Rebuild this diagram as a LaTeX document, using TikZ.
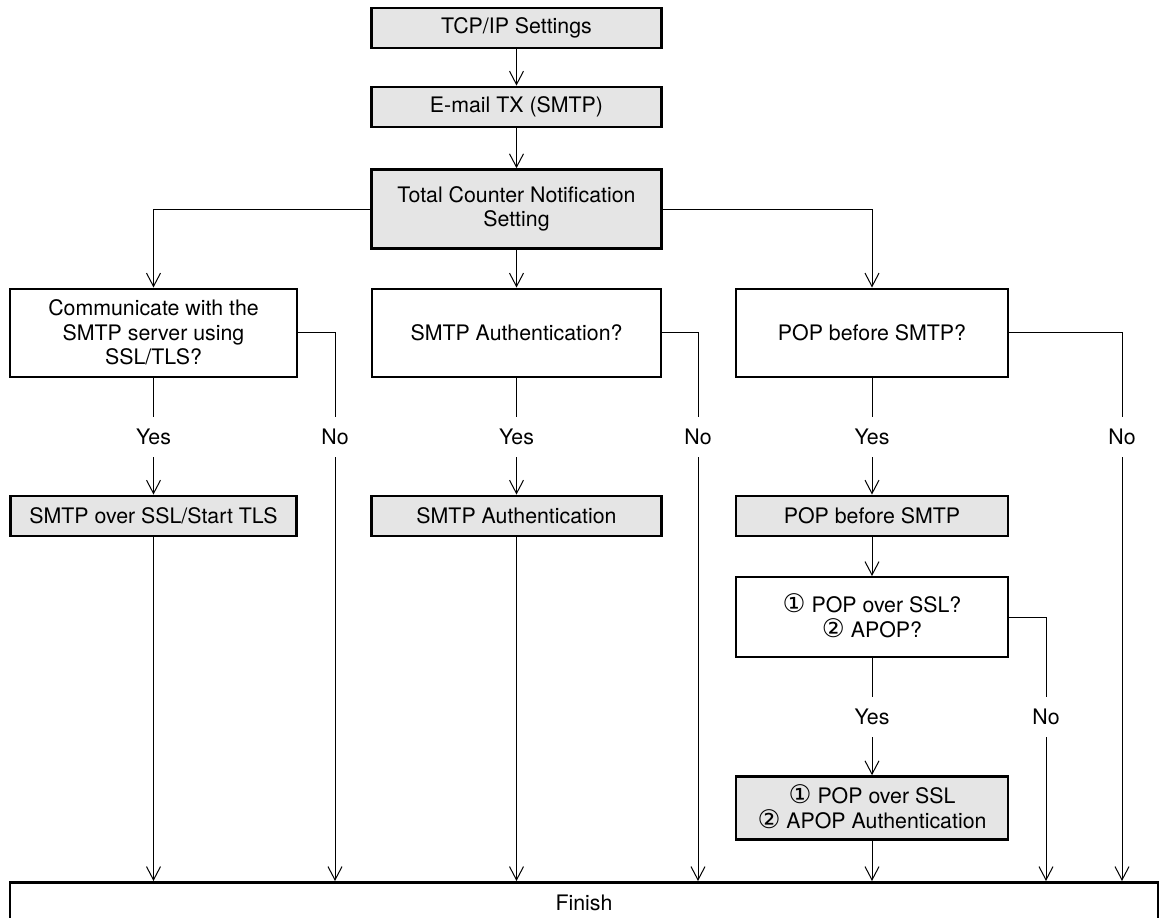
\documentclass[tikz,border=0pt]{standalone}
\usepackage{fontspec}
\setmainfont{TeX Gyre Heros}
\newfontfamily\circfont[Scale=1.2]{DejaVu Sans}
\usepackage{tikz}
\usetikzlibrary{arrows.meta,positioning,calc}
\tikzset{>={Straight Barb[length=10pt,width=10.5pt]}}
\newcommand{\cone}{\smash{\circfont ①}}
\newcommand{\ctwo}{\smash{\circfont ②}}

\begin{document}
\begin{tikzpicture}[
    x=0.75pt, y=-0.75pt,
    every node/.style={font=\fontsize{16}{18.5}\selectfont},
    proc/.style={rectangle, draw, line width=2.2pt, fill=black!10,
        inner sep=0pt, align=center},
    ask/.style={rectangle, draw, line width=1.5pt, fill=white,
        inner sep=0pt, align=center},
    lbl/.style={inner sep=0pt, minimum height=30pt},
    line/.style={line width=0.75pt},
    arrow/.style={->, line width=0.75pt}
]
    \useasboundingbox (0,0) rectangle (1159,917);

    % top chain
    \node[proc, minimum width=217pt, minimum height=30pt] (tcp) at (516.5,28) {TCP/IP Settings};
    \node[proc, minimum width=217pt, minimum height=30pt] (mail) at (516.5,107) {E-mail TX (SMTP)};
    \node[proc, minimum width=217pt, minimum height=59pt] (total) at (516.5,209) {Total Counter Notification\\Setting};

    % questions
    \node[ask, minimum width=215pt, minimum height=66pt] (ssl) at (153.5,332.5) {Communicate with the\\SMTP server using\\SSL/TLS?};
    \node[ask, minimum width=217pt, minimum height=66pt] (auth) at (516.5,332.5) {SMTP Authentication?};
    \node[ask, minimum width=204pt, minimum height=66pt] (pop) at (872,332.5) {POP before SMTP?};

    % labels
    \node[lbl] (yes1) at (153.5,437) {Yes};
    \node[lbl] (no1) at (335,437) {No};
    \node[lbl] (yes2) at (516.5,437) {Yes};
    \node[lbl] (no2) at (698,437) {No};
    \node[lbl] (yes3) at (872,437) {Yes};
    \node[lbl] (no3) at (1122,437) {No};

    % settings
    \node[proc, minimum width=215pt, minimum height=30pt] (sslset) at (153.5,516) {SMTP over SSL/Start TLS};
    \node[proc, minimum width=217pt, minimum height=30pt] (authset) at (516.5,516) {SMTP Authentication};
    \node[proc, minimum width=204pt, minimum height=30pt] (popset) at (872,516) {POP before SMTP};

    \node[ask, minimum width=204pt, minimum height=60pt] (apop) at (872,617) {\cone\ POP over SSL?\\\ctwo\ APOP?};
    \node[lbl] (yes4) at (872,717) {Yes};
    \node[lbl] (no4) at (1046,717) {No};
    \node[proc, minimum width=204pt, minimum height=47pt] (apopset) at (872,808) {\cone\ POP over SSL\\\ctwo\ APOP Authentication};

    \node[ask, line width=2.2pt, minimum width=861pt, minimum height=30pt, anchor=north] (finish) at (584,881) {Finish};

    % connectors
    \draw[arrow] (tcp) -- (mail);
    \draw[arrow] (mail) -- (total);
    \draw[arrow] (total.west) -| (ssl.north);
    \draw[arrow] (total) -- (auth);
    \draw[arrow] (total.east) -| (pop.north);

    \draw[line] (ssl) -- (yes1);
    \draw[arrow] (yes1) -- (sslset);
    \draw[line] (ssl.east) -| (no1.north);
    \draw[line] (auth) -- (yes2);
    \draw[arrow] (yes2) -- (authset);
    \draw[line] (auth.east) -| (no2.north);
    \draw[line] (pop) -- (yes3);
    \draw[arrow] (yes3) -- (popset);
    \draw[line] (pop.east) -| (no3.north);

    \draw[arrow] (popset) -- (apop);
    \draw[line] (apop) -- (yes4);
    \draw[arrow] (yes4) -- (apopset);
    \draw[line] (apop.east) -| (no4.north);

    \draw[arrow] (sslset) -- (sslset |- finish.north);
    \draw[arrow] (no1) -- (no1 |- finish.north);
    \draw[arrow] (authset) -- (authset |- finish.north);
    \draw[arrow] (no2) -- (no2 |- finish.north);
    \draw[arrow] (apopset) -- (apopset |- finish.north);
    \draw[arrow] (no4) -- (no4 |- finish.north);
    \draw[arrow] (no3) -- (no3 |- finish.north);
\end{tikzpicture}
\end{document}
